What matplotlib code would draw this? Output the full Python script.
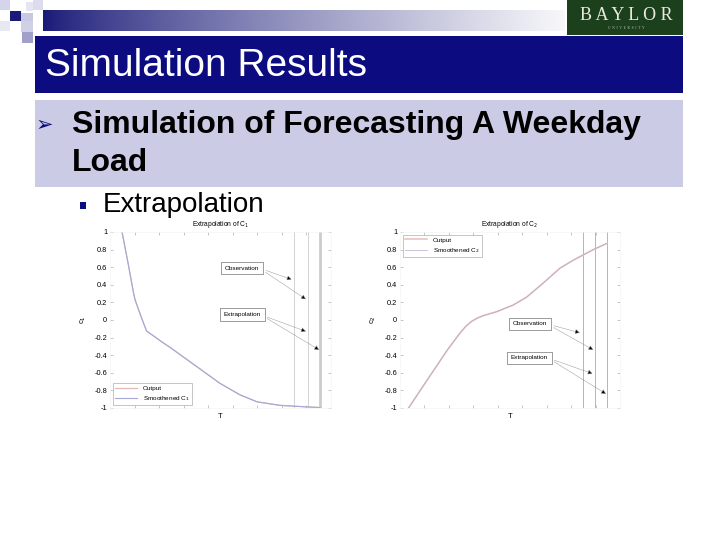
import numpy as np
import matplotlib.pyplot as plt
from matplotlib.patches import Rectangle

plt.rcParams['font.family'] = ['Liberation Sans', 'DejaVu Sans']

# slide text
title = 'Simulation Results'
bullet_1 = 'Simulation of Forecasting A Weekday\nLoad'
bullet_2 = 'Extrapolation'

# chart data
t_c1 = [0.49, 0.75, 0.95, 1.02, 1.29, 1.49, 2.17, 2.44, 3.46, 4.48, 5.29, 5.99, 6.92, 7.86, 8.55]
c1 = [1.0, 0.625, 0.32, 0.23, 0.02, -0.125, -0.26, -0.31, -0.515, -0.72, -0.85, -0.93, -0.97, -0.985, -0.995]
t_c2 = [0.35, 1.02, 1.94, 2.45, 2.70, 2.93, 3.15, 3.41, 3.96, 4.63, 5.18, 5.86, 6.55, 7.09, 7.91, 8.46]
c2 = [-1.0, -0.72, -0.34, -0.15, -0.07, -0.015, 0.02, 0.05, 0.095, 0.17, 0.26, 0.42, 0.59, 0.68, 0.80, 0.87]
vlines_c1 = [7.50, 8.05, 8.55]
vlines_c2 = [7.47, 7.98, 8.48]
yticks = [-1, -0.8, -0.6, -0.4, -0.2, 0, 0.2, 0.4, 0.6, 0.8, 1]
ytick_labels = ['-1', '-0.8', '-0.6', '-0.4', '-0.2', '0', '0.2', '0.4', '0.6', '0.8', '1']
xticks = [1, 2, 3, 4, 5, 6, 7, 8]

fig = plt.figure(figsize=(7.2, 5.4), dpi=100)
bg = fig.add_axes([0, 0, 1, 1])
bg.set_xlim(0, 720)
bg.set_ylim(540, 0)
bg.axis('off')

navy = '#0c0c80'

# corner squares
for (x, y, w, h, c) in [(0, 0, 10, 10, '#d4d4ea'), (10, 11, 11, 10, '#1a1a78'),
                        (21, 13, 12, 8, '#c8c8e2'), (33, 0, 10, 10, '#dcdcee'),
                        (26, 2, 7, 9, '#e6e6f2'), (21, 21, 12, 11, '#d0d0e6'),
                        (22, 32, 11, 11, '#a0a0c8'), (0, 21, 10, 10, '#e8e8f2')]:
    bg.add_patch(Rectangle((x, y), w, h, color=c, lw=0))

# gradient bar
grad = np.linspace(0, 1, 256) ** 0.8
c0 = np.array([0.10, 0.10, 0.47])
c_end = np.array([0.97, 0.97, 0.98])
img = c0[None, :] + (c_end - c0)[None, :] * grad[:, None]
bg.imshow(img[None, :, :], extent=[43, 565, 31, 10], aspect='auto')

# logo
bg.add_patch(Rectangle((567, 0), 116, 35, color='#1b401b', lw=0))
bg.text(626, 15, 'B A Y L O R', color='#e8e8e0', fontsize=13, ha='center', va='center',
        family='Liberation Serif')
bg.text(626, 28, 'U  N  I  V  E  R  S  I  T  Y', color='#c8c8c0', fontsize=2.5,
        ha='center', va='center', family='Liberation Serif')

# title bar
bg.add_patch(Rectangle((35, 36), 648, 57, color=navy, lw=0))
bg.text(45, 66, title, color='white', fontsize=28, ha='left', va='center')

# bullet band
bg.add_patch(Rectangle((35, 100), 648, 87, color='#cbcbe5', lw=0))
bg.text(36, 125, '\u27a2', color=navy, fontsize=15, ha='left', va='center', family='DejaVu Sans')
bg.text(72, 144, bullet_1, color='black', fontsize=23, fontweight='bold', ha='left',
        va='center', linespacing=1.36)

bg.add_patch(Rectangle((80, 202), 6, 7, color=navy, lw=0))
bg.text(103, 205, bullet_2, color='black', fontsize=20, ha='left', va='center')


def style_axes(ax, num):
    ax.set_xlim(0, 9)
    ax.set_ylim(-1, 1)
    ax.set_xticks(xticks)
    ax.set_xticklabels([])
    ax.set_yticks(yticks)
    ax.set_yticklabels(ytick_labels)
    ax.tick_params(direction='in', length=2, width=0.4, color='#999999', labelsize=5.3,
                   pad=2, top=True, right=True)
    for s in ax.spines.values():
        s.set_color('#f2f2f2')
        s.set_linewidth(0.4)
    ax.set_title('Extrapolation of C$_%d$' % num, fontsize=4.8, pad=4)
    ax.set_ylabel('c$_%d$' % num, fontsize=5.5, labelpad=5)
    ax.set_xlabel('T', fontsize=5.5, labelpad=1.5)


def annotate_boxes(ax, obs, ext):
    box = dict(boxstyle='square,pad=0.6', fc='white', ec='#888888', lw=0.5)
    for (txt, pos, ends) in [('Observation', obs[0], obs[1]), ('Extrapolation', ext[0], ext[1])]:
        for e in ends:
            ax.annotate(txt, xy=e, xytext=pos, fontsize=4.6, ha='center', va='center', bbox=box,
                        arrowprops=dict(arrowstyle='-|>', ec='#888888', fc='black', lw=0.4,
                                        linestyle=(0, (1, 1)), mutation_scale=7,
                                        relpos=(1, 0.5), shrinkB=0))


# left chart
ax1 = fig.add_axes([110 / 720, 1 - 408 / 540, 221 / 720, 176 / 540])
style_axes(ax1, 1)
for i, v in enumerate(vlines_c1):
    ax1.axvline(v, color='#cccccc', lw=2 if i == 2 else 0.6)
ax1.plot(t_c1, c1, color='#e2b8b8', lw=0.9, label='Output')
ax1.plot(t_c1, c1, color='#a8a8d8', lw=0.8, label='Smoothened C$_1$')
annotate_boxes(ax1, ((5.38, 0.59), [(7.40, 0.46), (7.98, 0.235)]),
               ((5.38, 0.06), [(7.98, -0.13), (8.52, -0.34)]))
leg = ax1.legend(loc='lower left', fontsize=4.6, handlelength=3.5, borderaxespad=0.4,
                 fancybox=False, edgecolor='#999999', framealpha=1)
leg.get_frame().set_linewidth(0.4)

# right chart
ax2 = fig.add_axes([400 / 720, 1 - 408 / 540, 220 / 720, 176 / 540])
style_axes(ax2, 2)
for v in vlines_c2:
    ax2.axvline(v, color='#aaaaaa', lw=0.6)
ax2.plot(t_c2, c2, color='#e8c4c4', lw=1.2, label='Output')
ax2.plot(t_c2, c2, color='#b8a8c8', lw=0.5, label='Smoothened C$_2$')
annotate_boxes(ax2, ((5.32, -0.045), [(7.36, -0.145), (7.91, -0.34)]),
               ((5.28, -0.43), [(7.88, -0.61), (8.43, -0.84)]))
leg = ax2.legend(loc='upper left', fontsize=4.6, handlelength=3.5, borderaxespad=0.4,
                 fancybox=False, edgecolor='#999999', framealpha=1)
leg.get_frame().set_linewidth(0.4)

fig.savefig('out.png', dpi=100)
